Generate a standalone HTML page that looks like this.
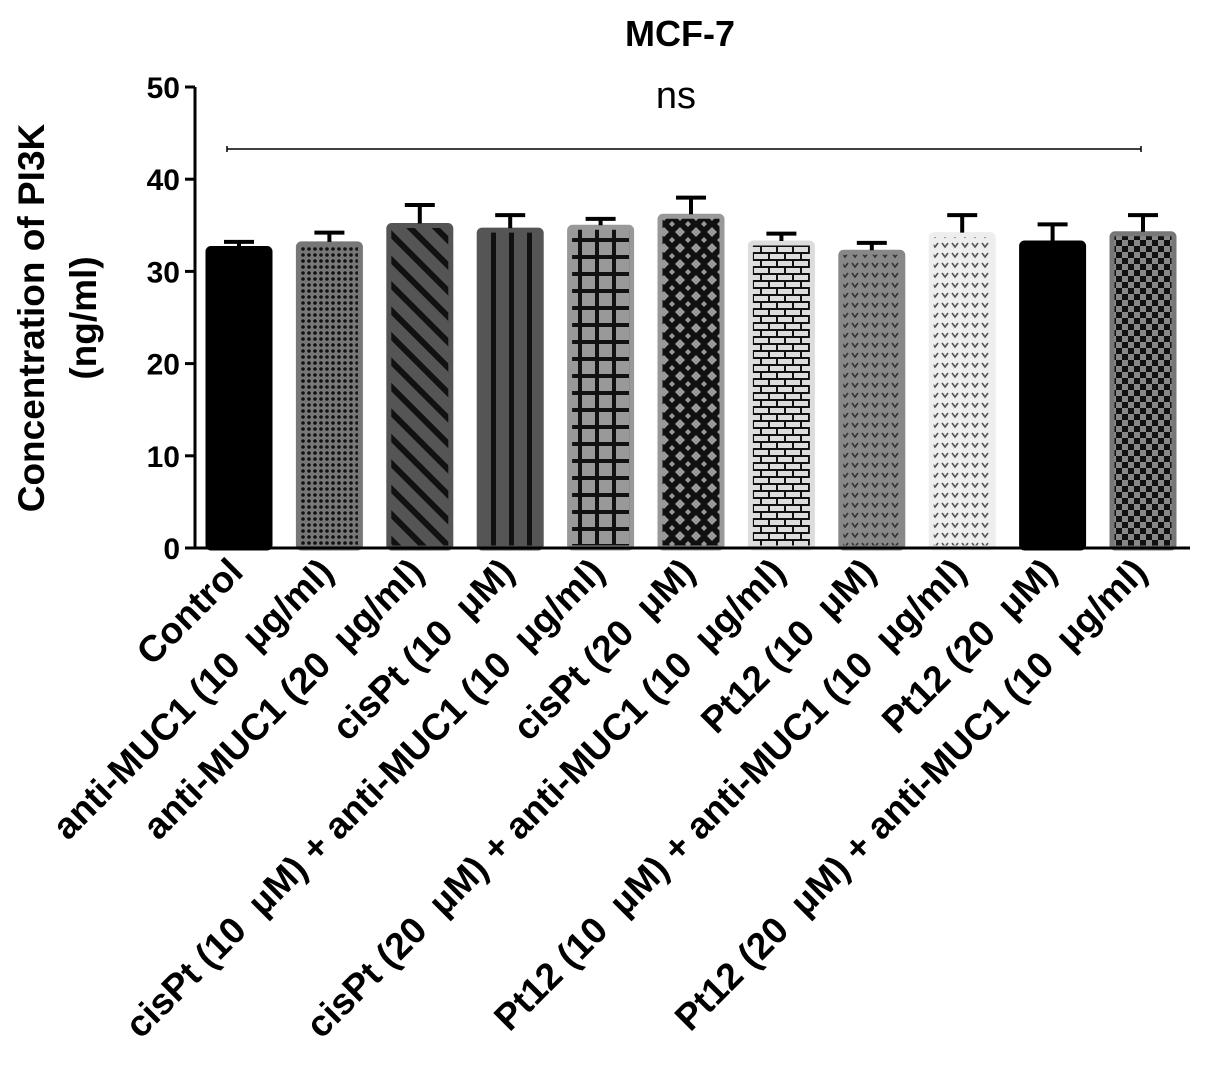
<!DOCTYPE html>
<html><head><meta charset="utf-8"><style>
body{margin:0;background:#fff;}
svg text{font-family:"Liberation Sans",Arial,sans-serif;font-weight:bold;fill:#000;}
</style></head><body>
<svg id="c" width="1205" height="1062" viewBox="0 0 1205 1062" xmlns="http://www.w3.org/2000/svg">
<defs>
<pattern id="p1" width="6" height="6" patternUnits="userSpaceOnUse"><rect width="6" height="6" fill="#777"/><circle cx="3" cy="3" r="1.8" fill="#111"/></pattern>
<pattern id="p2" width="18" height="18" patternUnits="userSpaceOnUse" patternTransform="rotate(-45)"><rect width="18" height="18" fill="#555"/><rect x="0" y="0" width="6" height="18" fill="#111"/></pattern>
<pattern id="p3" width="18" height="10" patternUnits="userSpaceOnUse"><rect width="18" height="10" fill="#555"/><rect x="5" width="5" height="10" fill="#111"/></pattern>
<pattern id="p4" width="17" height="17" patternUnits="userSpaceOnUse"><rect width="17" height="17" fill="#999"/><rect x="0" width="4" height="17" fill="#111"/><rect y="0" width="17" height="4" fill="#111"/></pattern>
<pattern id="p5" width="16" height="16" patternUnits="userSpaceOnUse"><rect width="16" height="16" fill="#111"/><path d="M8 3 L13 8 L8 13 L3 8Z" fill="#999"/><path d="M0 0 L3 0 L0 3Z M16 0 L13 0 L16 3Z M0 16 L3 16 L0 13Z M16 16 L13 16 L16 13Z" fill="#999"/></pattern>
<pattern id="p6" width="16" height="14" patternUnits="userSpaceOnUse"><rect width="16" height="14" fill="#ddd"/><rect y="0" width="16" height="2" fill="#111"/><rect y="7" width="16" height="2" fill="#111"/><rect x="0" y="0" width="2" height="7" fill="#111"/><rect x="8" y="7" width="2" height="7" fill="#111"/></pattern>
<pattern id="p7" width="10" height="10" patternUnits="userSpaceOnUse"><rect width="10" height="10" fill="#888"/><path d="M2 3 L5 7 L8 3" stroke="#333" stroke-width="1.6" fill="none"/></pattern>
<pattern id="p8" width="10" height="10" patternUnits="userSpaceOnUse"><rect width="10" height="10" fill="#eee"/><path d="M2 3 L5 7 L8 3" stroke="#555" stroke-width="1.6" fill="none"/></pattern>
<pattern id="p9" width="12" height="12" patternUnits="userSpaceOnUse"><rect width="12" height="12" fill="#888"/><rect width="6" height="6" fill="#111"/><rect x="6" y="6" width="6" height="6" fill="#111"/></pattern>
</defs>
</svg>
<script>
const categories=["Control","anti-MUC1 (10 \u00a0\u03bcg/ml)","anti-MUC1 (20 \u00a0\u03bcg/ml)","cisPt (10 \u00a0\u03bcM)","cisPt (10 \u00a0\u03bcM) + anti-MUC1 (10 \u00a0\u03bcg/ml)","cisPt (20 \u00a0\u03bcM)","cisPt (20 \u00a0\u03bcM) + anti-MUC1 (10 \u00a0\u03bcg/ml)","Pt12 (10 \u00a0\u03bcM)","Pt12 (10 \u00a0\u03bcM) + anti-MUC1 (10 \u00a0\u03bcg/ml)","Pt12 (20 \u00a0\u03bcM)","Pt12 (20 \u00a0\u03bcM) + anti-MUC1 (10 \u00a0\u03bcg/ml)"];
const means=[32.7,33.2,35.2,34.7,35.0,36.2,33.3,32.3,34.2,33.3,34.3];
const errors=[0.5,1.0,2.0,1.4,0.7,1.8,0.8,0.8,1.9,1.8,1.8];
const yTicks=[0,10,20,30,40,50];
const fills=["#000","url(#p1)","url(#p2)","url(#p3)","url(#p4)","url(#p5)","url(#p6)","url(#p7)","url(#p8)","#000","url(#p9)"];
const borders=["#000","#777","#555","#555","#999","#999","#ddd","#888","#eee","#000","#777"];
const NS="http://www.w3.org/2000/svg";
const svg=document.getElementById('c');
const y0=548,yTop=87,x0=195,step=90.4,firstC=239,bw=66;
const Y=v=>y0-(v/50)*(y0-yTop);
const X=i=>firstC+i*step;
function el(t,a){const e=document.createElementNS(NS,t);for(const k in a)e.setAttribute(k,a[k]);svg.appendChild(e);return e;}
let t=el('text',{x:680,y:46,'font-size':36,'text-anchor':'middle'});t.textContent='MCF-7';


let yt=el('text',{transform:'translate(44,318) rotate(-90)','font-size':37,'text-anchor':'middle'});


yt.innerHTML='<tspan x="0" dy="0">Concentration of PI3K</tspan><tspan x="0" dy="52">(ng/ml)</tspan>';
categories.forEach((c,i)=>{
  const cx=X(i),top=Y(means[i]);
  const r=el('rect',{x:cx-bw/2+2,y:top+2,width:bw-4,height:y0-top-2,fill:fills[i],stroke:borders[i],'stroke-width':5,rx:3});
  
  
  const et=Y(means[i]+errors[i]);
  const e=el('path',{d:`M${cx} ${top} V${et} M${cx-15} ${et} H${cx+15}`,stroke:'#000','stroke-width':4,fill:'none'});
  
  
  const l=el('text',{transform:`translate(${cx+6},574) rotate(-45)`,'font-size':37,'text-anchor':'end'});
  l.textContent=c;
  
  
});
const ax=el('path',{d:`M${x0} ${yTop} V${y0} H1190`,stroke:'#000','stroke-width':3,fill:'none'});


yTicks.forEach(v=>{
  const ty=Y(v);
  const tk=el('line',{x1:x0-10,x2:x0,y1:ty,y2:ty,stroke:'#000','stroke-width':3});
  
  
  const tl=el('text',{x:x0-15,y:ty+11,'font-size':30,'text-anchor':'end'});
  tl.textContent=v;
  
  
});
const ns=el('path',{d:`M${X(0)-12} 146 V152 M${X(0)-12} 149 H${X(10)-2} M${X(10)-2} 146 V152`,stroke:'#000','stroke-width':1.5,fill:'none'});


const nt=el('text',{x:676,y:108,'font-size':38,'text-anchor':'middle'});
nt.style.fontWeight='normal';
nt.textContent='ns';


</script>
</body></html>
